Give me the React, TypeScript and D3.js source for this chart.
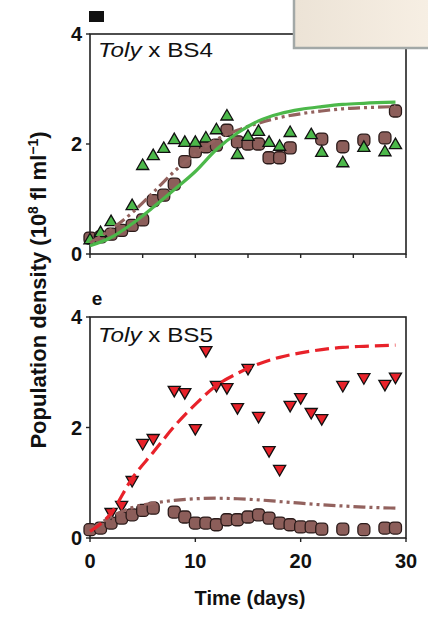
import React from "react";
import * as d3 from "d3";

// ---------- data ----------
const xTicksTop = [0, 5, 10, 15, 20, 25, 30];
const xTicksBottom = [0, 10, 20, 30];
const xTickLabels = ["0", "10", "20", "30"];
const yTicks = [0, 2, 4];

// Panel a: Toly x BS4
const bs4TolyDays = [0, 1, 2, 3, 4, 5, 6, 7, 8, 9, 10, 11, 12, 13, 14, 15, 16, 17, 18, 19, 22, 24, 26, 28, 29];
const bs4TolyVals = [0.29, 0.31, 0.36, 0.43, 0.52, 0.62, 0.97, 1.07, 1.27, 1.68, 1.86, 1.95, 1.98, 2.25, 2.04, 2.0, 2.0, 1.75, 1.75, 1.93, 2.09, 1.95, 2.07, 2.11, 2.6];
const bs4BsDays = [0, 1, 2, 4, 5, 6, 7, 8, 9, 10, 11, 12, 13, 14, 15, 16, 17, 18, 19, 21, 22, 24, 26, 28, 29];
const bs4BsVals = [0.25, 0.38, 0.58, 0.87, 1.6, 1.78, 1.91, 2.07, 2.02, 2.02, 2.1, 2.25, 2.5, 1.8, 2.13, 2.22, 2.02, 1.95, 2.2, 2.16, 1.84, 1.65, 1.93, 1.85, 1.98];
const fitDays = [0, 2, 4, 6, 8, 10, 12, 14, 16, 18, 20, 22, 24, 26, 29];
const bs4FitBs = [0.15, 0.3, 0.55, 0.85, 1.17, 1.5, 1.9, 2.2, 2.42, 2.55, 2.63, 2.68, 2.72, 2.74, 2.76];
const bs4FitToly = [0.2, 0.45, 0.75, 1.12, 1.5, 1.82, 2.08, 2.25, 2.38, 2.48, 2.55, 2.6, 2.64, 2.66, 2.68];

// Panel e: Toly x BS5
const bs5TolyDays = [0, 1, 2, 3, 4, 5, 6, 8, 9, 10, 11, 12, 13, 14, 15, 16, 17, 18, 19, 20, 21, 22, 24, 26, 28, 29];
const bs5TolyVals = [0.15, 0.18, 0.27, 0.36, 0.42, 0.5, 0.54, 0.47, 0.38, 0.27, 0.27, 0.24, 0.33, 0.33, 0.38, 0.42, 0.36, 0.27, 0.24, 0.2, 0.2, 0.16, 0.16, 0.15, 0.18, 0.18];
const bs5BsDays = [2, 3, 4, 5, 6, 8, 9, 10, 11, 12, 13, 14, 15, 16, 17, 18, 19, 20, 21, 22, 24, 26, 28, 29];
const bs5BsVals = [0.47, 0.6, 1.05, 1.72, 1.81, 2.68, 2.64, 1.99, 3.4, 2.77, 2.73, 2.37, 3.08, 2.21, 1.59, 1.25, 2.41, 2.55, 2.28, 2.17, 2.77, 2.91, 2.79, 2.92];
const bs5FitBs = [0.12, 0.45, 1.08, 1.55, 2.02, 2.42, 2.76, 2.98, 3.15, 3.27, 3.35, 3.41, 3.45, 3.47, 3.49];
const bs5FitToly = [0.15, 0.38, 0.55, 0.63, 0.68, 0.71, 0.72, 0.71, 0.69, 0.66, 0.63, 0.6, 0.58, 0.56, 0.54];

// ---------- styling ----------
const FONT = "'Liberation Sans', Arial, sans-serif";
const BROWN = "#8c5e5a";
const BROWN_LINE = "#93625e";
const GREEN = "#4cb84a";
const RED = "#e8222a";
const AXIS = "#222";

const W = 428;
const H = 620;
const X0 = 90;
const X1 = 406;

const x = d3.scaleLinear().domain([0, 30]).range([X0, X1]);

function Frame({ top, bottom, xTicks }: { top: number; bottom: number; xTicks: number[] }) {
  const y = d3.scaleLinear().domain([0, 4]).range([bottom, top]);
  return (
    <g>
      <rect x={X0} y={top} width={X1 - X0} height={bottom - top} fill="none" stroke={AXIS} strokeWidth={1.6} />
      {xTicks.map((t) => (
        <line key={"xt" + t} x1={x(t)} x2={x(t)} y1={bottom} y2={bottom + 4} stroke={AXIS} strokeWidth={1.4} />
      ))}
      {yTicks.map((t) => (
        <g key={"yt" + t}>
          <line x1={X0 - 4} x2={X0} y1={y(t)} y2={y(t)} stroke={AXIS} strokeWidth={1.4} />
          <text x={X0 - 8} y={y(t)} dy="0.36em" textAnchor="end" fontFamily={FONT} fontWeight="bold" fontSize={20} fill="#111">
            {t}
          </text>
        </g>
      ))}
    </g>
  );
}

function Squares({ days, vals, y }: { days: number[]; vals: number[]; y: d3.ScaleLinear<number, number> }) {
  const s = 12;
  return (
    <g>
      {days.map((d, i) => (
        <rect key={i} x={x(d) - s / 2} y={y(vals[i]) - s / 2} width={s} height={s} rx={4} fill={BROWN} stroke="#2b1b1a" strokeWidth={1.3} />
      ))}
    </g>
  );
}

function UpTriangles({ days, vals, y }: { days: number[]; vals: number[]; y: d3.ScaleLinear<number, number> }) {
  const sym = d3.symbol().type(d3.symbolTriangle).size(64)()!;
  return (
    <g>
      {days.map((d, i) => (
        <path key={i} d={sym} transform={`translate(${x(d)},${y(vals[i])})`} fill={GREEN} stroke="#111" strokeWidth={1.3} />
      ))}
    </g>
  );
}

function DownTriangles({ days, vals, y }: { days: number[]; vals: number[]; y: d3.ScaleLinear<number, number> }) {
  const sym = d3.symbol().type(d3.symbolTriangle).size(64)()!;
  return (
    <g>
      {days.map((d, i) => (
        <path key={i} d={sym} transform={`translate(${x(d)},${y(vals[i])}) rotate(180)`} fill={RED} stroke="#111" strokeWidth={1.3} />
      ))}
    </g>
  );
}

function Curve({ vals, y, color, dash, width }: { vals: number[]; y: d3.ScaleLinear<number, number>; color: string; dash?: string; width: number }) {
  const line = d3
    .line<number>()
    .x((_, i) => x(fitDays[i]))
    .y((v) => y(v))
    .curve(d3.curveMonotoneX);
  return <path d={line(vals) || ""} fill="none" stroke={color} strokeWidth={width} strokeDasharray={dash} />;
}

export default function App() {
  const topA = 34;
  const botA = 254;
  const topB = 317;
  const botB = 538;
  const yA = d3.scaleLinear().domain([0, 4]).range([botA, topA]);
  const yB = d3.scaleLinear().domain([0, 4]).range([botB, topB]);

  return (
    <svg width={W} height={H} style={{ position: "absolute", left: 0, top: 0, background: "#fff" }}>
      <rect x={0} y={0} width={W} height={H} fill="#fff" />

      {/* Panel a */}
      <Frame top={topA} bottom={botA} xTicks={xTicksTop} />
      <Squares days={bs4TolyDays} vals={bs4TolyVals} y={yA} />
      <UpTriangles days={bs4BsDays} vals={bs4BsVals} y={yA} />
      <Curve vals={bs4FitToly} y={yA} color={BROWN_LINE} dash="12,4,3,4,3,4" width={3.2} />
      <Curve vals={bs4FitBs} y={yA} color={GREEN} width={3.2} />
      <text x={98} y={57} fontFamily={FONT} fontSize={21} fill="#111" textLength={115} lengthAdjust="spacingAndGlyphs">
        <tspan fontStyle="italic">Toly</tspan> x BS4
      </text>
      <rect x={89} y={11} width={15} height={11} fill="#111" />

      {/* Panel e */}
      <Frame top={topB} bottom={botB} xTicks={xTicksBottom} />
      <Squares days={bs5TolyDays} vals={bs5TolyVals} y={yB} />
      <DownTriangles days={bs5BsDays} vals={bs5BsVals} y={yB} />
      <Curve vals={bs5FitToly} y={yB} color={BROWN_LINE} dash="12,4,3,4,3,4" width={3.2} />
      <Curve vals={bs5FitBs} y={yB} color={RED} dash="14,6" width={3.2} />
      <text x={98} y={342} fontFamily={FONT} fontSize={21} fill="#111" textLength={115} lengthAdjust="spacingAndGlyphs">
        <tspan fontStyle="italic">Toly</tspan> x BS5
      </text>
      <text x={97} y={305} textAnchor="middle" fontFamily={FONT} fontWeight="bold" fontSize={19} fill="#111">
        e
      </text>

      {/* x tick labels */}
      {xTicksBottom.map((t, i) => (
        <text key={t} x={x(t)} y={568} textAnchor="middle" fontFamily={FONT} fontWeight="bold" fontSize={20} fill="#111">
          {xTickLabels[i]}
        </text>
      ))}

      {/* axis titles */}
      <text x={250} y={605} textAnchor="middle" fontFamily={FONT} fontWeight="bold" fontSize={20} fill="#111">
        Time (days)
      </text>
      <text transform="translate(46,290) rotate(-90)" textAnchor="middle" fontFamily={FONT} fontWeight="bold" fontSize={22} fill="#111">
        Population density (10<tspan fontSize={14} dy={-8}>8</tspan>
        <tspan dy={8}> fl ml</tspan>
        <tspan fontSize={14} dy={-8}>−1</tspan>
        <tspan dy={8}>)</tspan>
      </text>

      {/* overlay box top-right */}
      <defs>
        <linearGradient id="ov" x1="0" x2="1" y1="0" y2="0">
          <stop offset="0" stopColor="#ece3d6" />
          <stop offset="1" stopColor="#f7efe4" />
        </linearGradient>
      </defs>
      <rect x={294} y={-4} width={140} height={52} fill="url(#ov)" stroke="#a2a8a7" strokeWidth={2.5} />
    </svg>
  );
}
